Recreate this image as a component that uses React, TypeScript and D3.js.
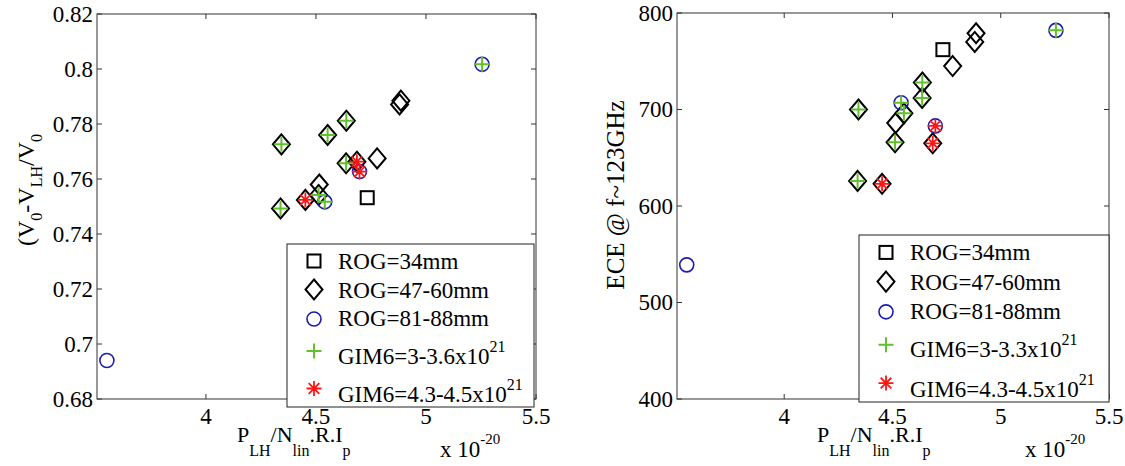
import * as d3 from 'd3';
import React from 'react';

// shot parameter P_LH/(N_lin.R.Ip), x 1e-20
const xVals = [3.55, 5.255, 4.886, 4.880, 4.733, 4.778, 4.638, 4.637, 4.343, 4.54, 4.553, 4.515, 4.698, 4.686, 4.512, 4.339, 4.452];
// ROG class: s = 34mm, d = 47-60mm, c = 81-88mm
const rogGroup = ['c', 'c', 'd', 'd', 's', 'd', 'd', 'd', 'd', 'c', 'd', 'd', 'c', 'd', 'd', 'd', 'd'];
// GIM6 class: + = 3-3.6e21, * = 4.3-4.5e21
const gimGroup = ['', '+', '', '', '', '', '+', '+', '+', '+', '+', '', '*', '*', '+', '+', '*'];
const voltRatio = [0.694, 0.8017, 0.7885, 0.7871, 0.7532, 0.7675, 0.7812, 0.7657, 0.7726, 0.7517, 0.776, 0.758, 0.7627, 0.7663, 0.7542, 0.7493, 0.7524];
const eceTemp = [539, 782, 779, 770, 762, 745, 728, 712, 700, 707, 696, 686, 683, 665, 666, 626, 623];

const xTicks = [4, 4.5, 5, 5.5];
const voltTicks = [0.68, 0.7, 0.72, 0.74, 0.76, 0.78, 0.8, 0.82];
const eceTicks = [400, 500, 600, 700, 800];

const legendRog = ['ROG=34mm', 'ROG=47-60mm', 'ROG=81-88mm'];

const BLUE = '#1c1cb0';
const GREEN = '#62c02c';
const RED = '#ff1414';
const FONT = '"Liberation Serif", "Times New Roman", serif';

const Marker = ({ kind, cx, cy }) => {
    if (kind === 's') {
        return <rect x={cx - 6.5} y={cy - 6.5} width={13} height={13} fill="none" stroke="#000" strokeWidth={2} />;
    }
    if (kind === 'd') {
        return <path d={`M${cx},${cy - 10}L${cx + 8.5},${cy}L${cx},${cy + 10}L${cx - 8.5},${cy}Z`} fill="none" stroke="#000" strokeWidth={2} />;
    }
    if (kind === 'c') {
        return <circle cx={cx} cy={cy} r={7} fill="none" stroke={BLUE} strokeWidth={1.6} />;
    }
    if (kind === '+') {
        return <path d={`M${cx - 7.5},${cy}H${cx + 7.5}M${cx},${cy - 7.5}V${cy + 7.5}`} stroke={GREEN} strokeWidth={2} />;
    }
    if (kind === '*') {
        const a = 7.5, b = 5.3;
        return <path d={`M${cx - a},${cy}H${cx + a}M${cx},${cy - a}V${cy + a}M${cx - b},${cy - b}L${cx + b},${cy + b}M${cx - b},${cy + b}L${cx + b},${cy - b}`} stroke={RED} strokeWidth={1.8} />;
    }
    return null;
};

const Panel = ({ left, top, width, height, yDomain, yTicks, yFmt, yVals, yLabel, gimLabel, legend, xLab, x10 }) => {
    const x = d3.scaleLinear().domain([3.505, 5.5]).range([left, left + width]);
    const y = d3.scaleLinear().domain(yDomain).range([top + height, top]);
    const bottom = top + height;
    const right = left + width;
    const tl = 5;
    const idx = d3.range(xVals.length);
    const order = ['s', 'd', 'c'];
    const lrows = [
        [17, 24.5], [45.5, 53.5], [75, 82], [107, 119.5], [144.5, 158]
    ].map(([m, t]) => [m * legend.h / 163, t * legend.h / 163]);

    return (
        <g fontFamily={FONT} fill="#000">
            <rect x={left} y={top} width={width} height={height} fill="#fff" stroke="#333" strokeWidth={1} />
            {xTicks.map((t) => (
                <g key={'x' + t}>
                    <line x1={x(t)} x2={x(t)} y1={bottom} y2={bottom - tl} stroke="#333" />
                    <line x1={x(t)} x2={x(t)} y1={top} y2={top + tl} stroke="#333" />
                    <text x={x(t)} y={bottom + 25} textAnchor="middle" fontSize={23}>{t}</text>
                </g>
            ))}
            {yTicks.map((t) => (
                <g key={'y' + t}>
                    <line x1={left} x2={left + tl} y1={y(t)} y2={y(t)} stroke="#333" />
                    <line x1={right} x2={right - tl} y1={y(t)} y2={y(t)} stroke="#333" />
                    <text x={left - 4} y={y(t) + 7.5} textAnchor="end" fontSize={23}>{yFmt(t)}</text>
                </g>
            ))}
            {order.map((k) => idx.filter((i) => rogGroup[i] === k).map((i) => (
                <Marker key={k + i} kind={k} cx={x(xVals[i])} cy={y(yVals[i])} />
            )))}
            {['+', '*'].map((k) => idx.filter((i) => gimGroup[i] === k).map((i) => (
                <Marker key={k + i} kind={k} cx={x(xVals[i])} cy={y(yVals[i])} />
            )))}

            <g transform={`translate(${legend.x},${legend.y})`}>
                <rect x={0} y={0} width={legend.w} height={legend.h} fill="#fff" stroke="#222" strokeWidth={1} />
                {['s', 'd', 'c', '+', '*'].map((k, i) => (
                    <Marker key={'l' + k} kind={k} cx={27} cy={lrows[i][0]} />
                ))}
                {legendRog.map((s, i) => (
                    <text key={s} x={51} y={lrows[i][1]} fontSize={23}>{s}</text>
                ))}
                {[gimLabel, 'GIM6=4.3-4.5x10'].map((s, i) => (
                    <text key={s} x={51} y={lrows[i + 3][1]} fontSize={23}>
                        {s}<tspan fontSize={16} dy={-12}>21</tspan>
                    </text>
                ))}
            </g>

            <text x={xLab} y={bottom + 43} fontSize={22}>
                P<tspan fontSize={16} dy={14}>LH</tspan>
                <tspan dy={-14}>/N</tspan>
                <tspan fontSize={16} dy={14}>lin</tspan>
                <tspan dy={-14}>.R.I</tspan>
                <tspan fontSize={16} dy={14}>p</tspan>
            </text>
            <text x={x10} y={bottom + 58} fontSize={23}>
                x 10<tspan fontSize={15} dy={-13}>-20</tspan>
            </text>
            {yLabel}
        </g>
    );
};

const App = () => {
    const leftYLabel = (
        <text transform="translate(34,190) rotate(-90)" textAnchor="middle" fontSize={24}>
            (V<tspan fontSize={16} dy={8}>0</tspan>
            <tspan dy={-8}>-V</tspan>
            <tspan fontSize={16} dy={8}>LH</tspan>
            <tspan dy={-8}>/V</tspan>
            <tspan fontSize={16} dy={8}>0</tspan>
        </text>
    );
    const rightYLabel = (
        <text transform="translate(624,195) rotate(-90)" textAnchor="middle" fontSize={25}>
            ECE @ f~123GHz
        </text>
    );
    return (
        <div>
            <style>{'body{margin:0}'}</style>
            <svg width={1125} height={466} style={{ display: 'block', background: '#fff' }}>
                <Panel left={97} top={14} width={439} height={385}
                    yDomain={[0.68, 0.82]} yTicks={voltTicks} yFmt={(t) => d3.format('~g')(+t.toFixed(2))}
                    yVals={voltRatio} yLabel={leftYLabel} gimLabel="GIM6=3-3.6x10"
                    legend={{ x: 287, y: 244, w: 247, h: 163 }} xLab={237} x10={440} />
                <Panel left={677} top={13} width={432} height={386}
                    yDomain={[400, 800]} yTicks={eceTicks} yFmt={(t) => String(t)}
                    yVals={eceTemp} yLabel={rightYLabel} gimLabel="GIM6=3-3.3x10"
                    legend={{ x: 859, y: 235, w: 250, h: 167 }} xLab={817} x10={1025} />
            </svg>
        </div>
    );
};

export default App;
